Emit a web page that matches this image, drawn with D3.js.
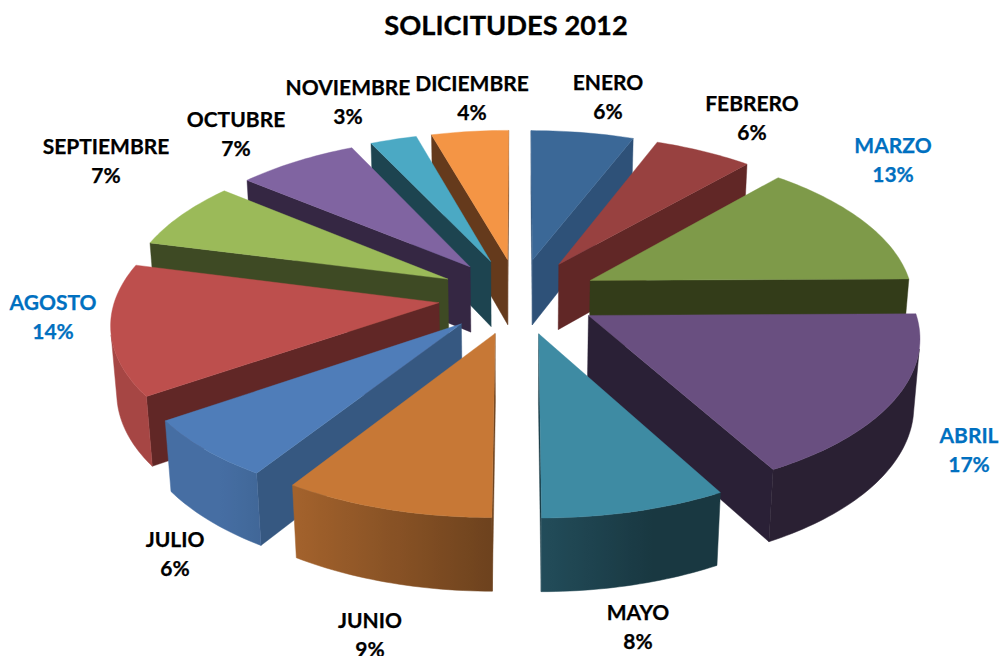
<!DOCTYPE html>
<html><head><meta charset="utf-8"><style>html,body{margin:0;padding:0;background:#fff;overflow:hidden}svg{display:block}</style></head>
<body><svg id="c" width="1004" height="656"><defs></defs></svg>
<script src="https://cdn.jsdelivr.net/npm/d3@7"></script>
<script>
const title = "SOLICITUDES 2012";
const months = ["ENERO","FEBRERO","MARZO","ABRIL","MAYO","JUNIO","JULIO","AGOSTO","SEPTIEMBRE","OCTUBRE","NOVIEMBRE","DICIEMBRE"];
const shares = [5.86,5.62,13.35,17.18,7.99,9.07,6.33,13.63,6.98,6.92,2.67,4.40];
const topColors = ["#3b6897","#984140","#7e9a49","#694f80","#3e8ba3","#c77836","#4f7db9","#bd4f4d","#9bba59","#8064a1","#4ba9c4","#f49545"];
const sideColors = ["#2e5178","#612726","#333c19","#2a2036","#1a3c46","#6e4420","#365881","#612726","#3e4a24","#352743","#1d4450","#653a1c"];
const labelAnchors = [[608,90],[752,111],[893,153],[969,443],[638,620],[370,628],[175,547],[53,310],[106,154],[236,127],[348,95],[472,91]];
const highlighted = ["MARZO","ABRIL","AGOSTO"];

// camera model of the tilted, exploded pie
const cam = {cx:518.26, cy:296.06, S:323.15, D:7.436, e:0.492, explode:0.2478, height:0.2363};
const se = Math.sin(cam.e), ce = Math.cos(cam.e);
const project = ([X,Y,Z]) => {
  const yc = Y*se + Z*ce, zc = cam.D + Y*ce - Z*se;
  return [cam.cx + cam.S*cam.D*X/zc, cam.cy - cam.S*cam.D*yc/zc];
};
const eye = [0, -cam.D*ce, cam.D*se];
const faces = (n,p) => n[0]*(eye[0]-p[0]) + n[1]*(eye[1]-p[1]) + n[2]*(eye[2]-p[2]) > 0;
const poly = d3.line().curve(d3.curveLinearClosed);

const svg = d3.select("#c"), defs = svg.select("defs");
const arcs = d3.pie().sort(null)(shares).map((a,i)=>{
  const mid = (a.startAngle+a.endAngle)/2;
  return {...a, i, mid, ox:cam.explode*Math.sin(mid), oy:cam.explode*Math.cos(mid)};
});
const order = arcs.slice().sort((a,b)=>Math.cos(b.mid)-Math.cos(a.mid));
const shade = d3.scaleLinear().domain([-1,1]).range([1.05,0.05]).clamp(true);
const wallFactor = th => Math.max(0.40, Math.min(0.88, shade(Math.sin(th))));

const g = svg.selectAll("g.slice").data(order).join("g").attr("class","slice");
g.each(function(d){
  const sel = d3.select(this), z0 = 0, z1 = -cam.height;
  const pt = (th,z)=>[d.ox+Math.sin(th), d.oy+Math.cos(th), z];
  const apex = z=>[d.ox,d.oy,z];
  const n = Math.max(6,Math.ceil((d.endAngle-d.startAngle)/0.02));
  const ts = d3.range(n+1).map(k=>d.startAngle+(d.endAngle-d.startAngle)*k/n);
  const base = d3.rgb(topColors[d.i]);
  const tint = th => { const f=wallFactor(th); return d3.rgb(base.r*f,base.g*f,base.b*f).formatHex(); };
  // radial walls
  [[d.startAngle,-1],[d.endAngle,1]].forEach(([th,s])=>{
    const nv=[s*Math.cos(th),-s*Math.sin(th),0];
    if(!faces(nv,pt(th,z0))) return;
    sel.append("path").attr("d",poly([apex(z0),pt(th,z0),pt(th,z1),apex(z1)].map(project)))
      .attr("fill",sideColors[d.i]).attr("stroke",sideColors[d.i]).attr("stroke-width",0.4);
  });
  // outer curved wall: one shape with a horizontal gradient that follows the rim
  const vis = ts.filter(t=>faces([Math.sin(t),Math.cos(t),0],pt(t,z0)));
  if(vis.length>1){
    const xs = vis.map(t=>project(pt(t,z1))[0]);
    const x0 = d3.min(xs), x1 = d3.max(xs);
    const px = d3.scaleLinear().domain([x0,x1]).range([0,1]);
    const stops = vis.map((t,k)=>({o:px(xs[k]),c:tint(t)})).sort((a,b)=>a.o-b.o);
    const id = "wall"+d.i;
    const lg = defs.append("linearGradient").attr("id",id).attr("gradientUnits","userSpaceOnUse")
      .attr("x1",x0).attr("x2",x1).attr("y1",0).attr("y2",0);
    lg.selectAll("stop").data(stops).join("stop").attr("offset",s=>s.o).attr("stop-color",s=>s.c);
    const ring = [...vis.map(t=>pt(t,z0)),...vis.slice().reverse().map(t=>pt(t,z1))].map(project);
    sel.append("path").attr("d",poly(ring)).attr("fill",`url(#${id})`).attr("stroke",`url(#${id})`).attr("stroke-width",0.5);
  }
  // top face
  sel.append("path").attr("d",poly([apex(z0),...ts.map(t=>pt(t,z0))].map(project)))
    .attr("fill",topColors[d.i]).attr("stroke",topColors[d.i]).attr("stroke-width",0.4);
});

const font = "Lato, Carlito, 'Open Sans', sans-serif";
svg.append("text").text(title).attr("x",506).attr("y",35).attr("text-anchor","middle")
  .attr("font-family",font).attr("font-weight",700).attr("font-size",27.3).attr("fill","#000")
  .attr("stroke","#000").attr("stroke-width",0.3);
const pct = d3.format(".0f");
const lab = svg.selectAll("text.lab").data(arcs).join("text").attr("class","lab")
  .attr("text-anchor","middle").attr("font-family",font).attr("font-weight",700).attr("font-size",21)
  .attr("fill",d=>highlighted.includes(months[d.i])?"#0070c0":"#000")
  .attr("stroke",d=>highlighted.includes(months[d.i])?"#0070c0":"#000").attr("stroke-width",0.25);
lab.append("tspan").attr("x",d=>labelAnchors[d.i][0]).attr("y",d=>labelAnchors[d.i][1]).text(d=>months[d.i]);
lab.append("tspan").attr("x",d=>labelAnchors[d.i][0]).attr("y",d=>labelAnchors[d.i][1]+29).text(d=>pct(d.value)+"%");
</script></body></html>
